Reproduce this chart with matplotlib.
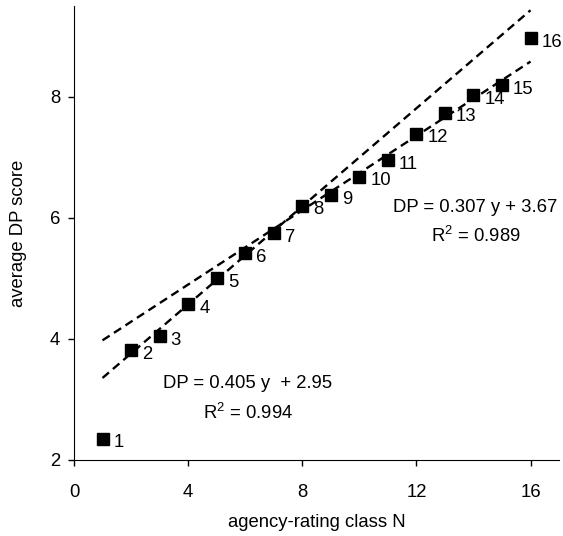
import numpy as np
import matplotlib
matplotlib.use('Agg')
import matplotlib.pyplot as plt

plt.rcParams['font.family'] = ['Liberation Sans', 'DejaVu Sans']
plt.rcParams['mathtext.fontset'] = 'custom'
plt.rcParams['mathtext.rm'] = 'Liberation Sans'

# rating class and average DP score
rating_class = [1, 2, 3, 4, 5, 6, 7, 8, 9, 10, 11, 12, 13, 14, 15, 16]
dp_score = [2.35, 3.81, 4.05, 4.57, 5.00, 5.42, 5.75, 6.20, 6.38,
            6.68, 6.95, 7.39, 7.74, 8.03, 8.19, 8.97]

# fitted lines as printed on the chart: DP = slope * y + intercept
fit_slopes = [0.405, 0.307]
fit_intercepts = [2.95, 3.67]
fit_range = [1, 16]

fs = 13.3

fig = plt.figure(figsize=(5.63, 5.36), dpi=100)
ax = fig.add_axes([0.1314, 0.1418, 0.8616, 0.847])

xs = np.array(fit_range, dtype=float)
for slope, icpt in zip(fit_slopes, fit_intercepts):
    ax.plot(xs, slope * xs + icpt, color='black', lw=1.7,
            linestyle=(0, (3.6, 2.2)))

ax.plot(rating_class, dp_score, 's', color='black', markersize=8.5, zorder=3)
for n, v in zip(rating_class, dp_score):
    ax.annotate(str(n), (n, v), xytext=(8, -3), textcoords='offset points',
                ha='left', va='center', fontsize=fs)

ax.text(14.06, 6.17, 'DP = 0.307 y + 3.67', ha='center', va='center', fontsize=fs)
ax.text(14.07, 5.70, 'R$^2$ = 0.989', ha='center', va='center', fontsize=fs)
ax.text(6.1, 3.26, 'DP = 0.405 y  + 2.95', ha='center', va='center', fontsize=fs)
ax.text(6.1, 2.78, 'R$^2$ = 0.994', ha='center', va='center', fontsize=fs)

ax.set_xlim(0, 17)
ax.set_ylim(2, 9.5)
ax.set_xticks([0, 4, 8, 12, 16])
ax.set_yticks([2, 4, 6, 8])
ax.spines['top'].set_visible(False)
ax.spines['right'].set_visible(False)
ax.tick_params(axis='both', direction='out', length=4, width=1, labelsize=fs)
ax.tick_params(axis='x', pad=13)
ax.tick_params(axis='y', pad=6)
ax.set_xlabel('agency-rating class N', fontsize=fs, labelpad=10)
ax.set_ylabel('average DP score', fontsize=fs, labelpad=16)

fig.savefig('out.png', dpi=100)
